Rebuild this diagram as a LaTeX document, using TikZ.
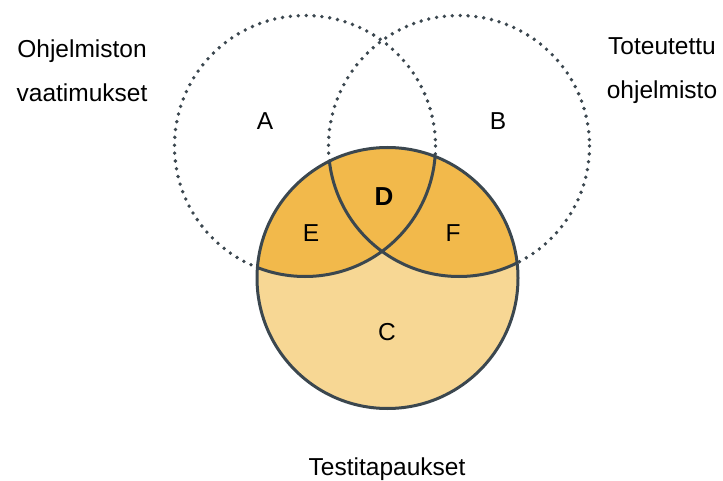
\documentclass[tikz,border=0pt]{standalone}
\usepackage{fontspec}
\setmainfont{Liberation Sans}
\usetikzlibrary{positioning}
\definecolor{rim}{HTML}{3B474F}
\definecolor{lite}{HTML}{F7D794}
\definecolor{deep}{HTML}{F2B94B}

\begin{document}
\begin{tikzpicture}[x=1pt,y=-1pt, font=\fontsize{24.5}{44}\selectfont,
  dots/.style={draw=rim, line width=3.8pt, line cap=round, dash pattern=on 0pt off 7.9pt},
  rimline/.style={draw=rim, line width=3pt},
  lbl/.style={inner sep=0pt}]
  \useasboundingbox (0,0) rectangle (723,481);
  \coordinate (ca) at (305,146);
  \coordinate (cb) at (459,146);
  \coordinate (cc) at (387.5,278);
  \def\rad{130.5}
  % requirements and implementation, dotted
  \path[dots] (ca) circle[radius=\rad] (cb) circle[radius=\rad];
  % test cases
  \fill[lite] (cc) circle[radius=\rad];
  \begin{scope}
    \clip (cc) circle[radius=\rad];
    \fill[deep] (ca) circle[radius=\rad] (cb) circle[radius=\rad];
    \path[rimline] (ca) circle[radius=\rad] (cb) circle[radius=\rad];
  \end{scope}
  \path[rimline] (cc) circle[radius=\rad];
  % region letters
  \node[lbl] (setA) at (265,121) {A};
  \node[lbl] (setB) at (498,121) {B};
  \node[lbl] (setC) at (387,332) {C};
  \node[lbl,font=\fontsize{26}{44}\selectfont\bfseries] (setD) at (384,197) {D};
  \node[lbl] (setE) at (311,233) {E};
  \node[lbl] (setF) at (453,233) {F};
  % set names
  \node[lbl,anchor=north,align=center] (req) at (82,40) {Ohjelmiston\\vaatimukset};
  \node[lbl,anchor=north,align=center] (impl) at (662,37) {Toteutettu\\ohjelmisto};
  \node[lbl,anchor=base] (tests) at (387,475) {Testitapaukset};
\end{tikzpicture}
\end{document}
